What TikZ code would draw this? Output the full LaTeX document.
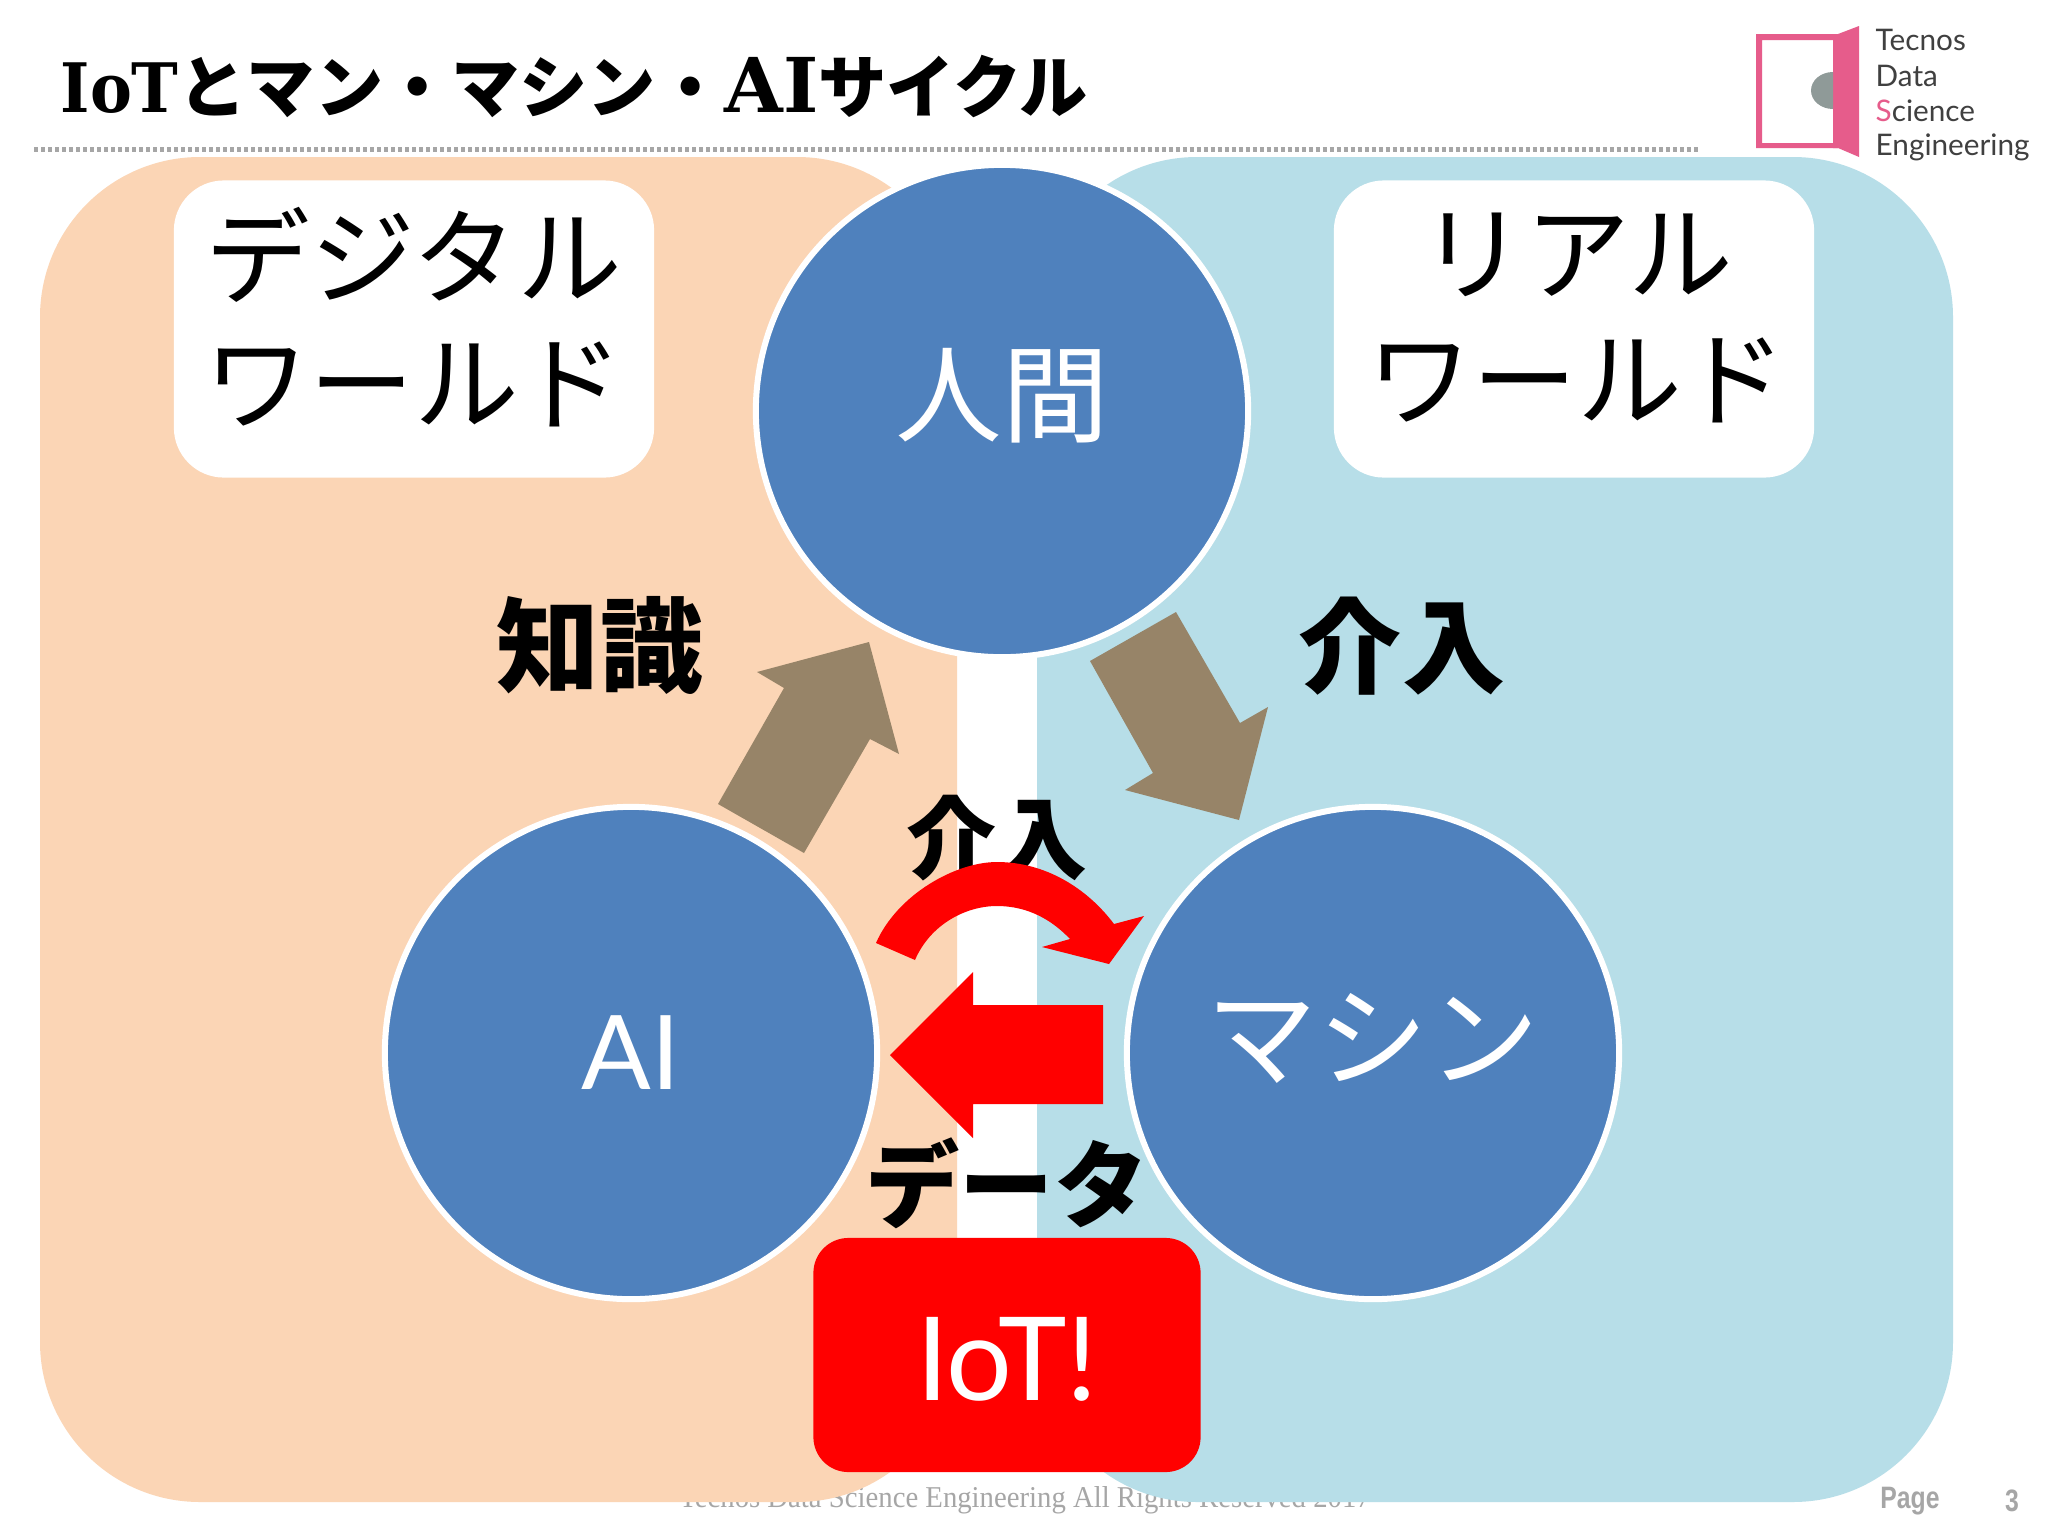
\documentclass[tikz,border=0pt]{standalone}
\usepackage{fontspec}
\setmainfont{Liberation Serif}
\newfontfamily\jpfont{Noto Sans CJK JP}
\newfontfamily\logofont{Lato}
\newfontfamily\slabfont[FakeStretch=0.92]{DejaVu Serif}
\newfontfamily\wideslabfont{DejaVu Serif}
\newfontfamily\pagefont{Liberation Sans}
\definecolor{peach}{HTML}{FBD5B5}
\definecolor{skyblue}{HTML}{B7DEE8}
\definecolor{ballblue}{HTML}{4F81BD}
\definecolor{brownarrow}{HTML}{978468}
\definecolor{doorpink}{HTML}{E65C8B}
\definecolor{knobgray}{HTML}{8F9A98}
\definecolor{footgray}{HTML}{A6A6A6}
\begin{document}
\begin{tikzpicture}[x=0.01cm,y=-0.01cm,
  world/.style={rounded corners=1.6cm},
  ball/.style={circle,fill=ballblue,draw=white,line width=0.06cm,minimum size=4.92cm,inner sep=0pt,text=white,font=\jpfont\fontsize{29.8}{35}\selectfont},
  namebox/.style={rectangle,fill=white,rounded corners=0.5cm,minimum width=4.8cm,minimum height=2.97cm,inner sep=0pt,align=center,font=\jpfont\fontsize{29.8}{36}\selectfont},
  biglabel/.style={inner sep=0pt,font=\jpfont\bfseries\fontsize{29.3}{35}\selectfont},
  midlabel/.style={inner sep=0pt,font=\jpfont\bfseries\fontsize{25.6}{30}\selectfont},
  logotext/.style={anchor=west,inner sep=0pt,text=black!75,font=\logofont\fontsize{8.45}{11}\selectfont}]
\useasboundingbox (0,0) rectangle (2048,1536);
\fill[white] (0,0) rectangle (2048,1536);
% footer goes under the panels
\node[footgray,inner sep=0pt,xscale=0.95] (footer) at (1025,1500) {\fontsize{8.6}{10}\selectfont Tecnos Data Science Engineering All Rights Reserved 2017};
\node[footgray,inner sep=0pt,xscale=0.8] (pagename) at (1910,1501) {\pagefont\bfseries\fontsize{8.8}{10}\selectfont Page};
\node[footgray,inner sep=0pt,xscale=0.8] (pagenum) at (2012,1501) {\pagefont\bfseries\fontsize{8.8}{10}\selectfont 3};
% panels
\fill[peach,world] (40,157) rectangle (957,1502);
\fill[skyblue,world] (1037,157) rectangle (1953,1502);
% title
\node[anchor=west,inner sep=0pt] (title) at (60,87) {\fontsize{19.4}{24}\selectfont\jpfont\bfseries{\slabfont IoT}とマン・マシン・{\wideslabfont\fontsize{21.5}{24}\selectfont AI}サイクル};
\draw[gray!70,line width=0.05cm,dash pattern=on 0.04cm off 0.03cm] (34,149)--(1698,149);
% logo
\fill[doorpink,even odd rule] (1756,34) rectangle (1838,148) (1762,40) rectangle (1833,143);
\fill[doorpink] (1833,34)--(1838,34)--(1859,26)--(1859,157)--(1838,148)--(1833,148)--cycle;
\fill[knobgray] (1833,109) arc (90:270:22 and 18.5)--cycle;
\node[logotext] (logoa) at (1875,40) {Tecnos};
\node[logotext] (logob) at (1875,76) {Data};
\node[logotext] (logoc) at (1875,111) {\textcolor{doorpink}{S}cience};
\node[logotext] (logod) at (1875,147) {Engineering};
% name boxes
\node[namebox] (digital) at (414,329) {};
\node[namebox] (real) at (1574,329) {};
\node[namebox,fill=none,minimum height=0pt] (digitaltext) at (414,317) {デジタル\\ワールド};
\node[namebox,fill=none,minimum height=0pt] (realtext) at (1577,318) {リアル\\ワールド};
% brown arrows
\fill[brownarrow] (718,804)--(804,853)--(870,739)--(899,754)--(869,642)--(757,672)--(784,688)--cycle;
\fill[brownarrow] (1176,612)--(1090,661)--(1153,773)--(1125,790)--(1239,820)--(1268,707)--(1240,723)--cycle;
% circles
\node[ball] (human) at (1002,411) {};
\node[ball] (ai) at (631,1053) {\logofont\fontsize{29.3}{35}\selectfont AI};
\node[ball] (machine) at (1373,1053) {};
\node[text=white,inner sep=0pt,font=\jpfont\fontsize{30.3}{35}\selectfont] (humantext) at (1002,396) {人間};
\node[text=white,inner sep=0pt,font=\jpfont\fontsize{31.5}{35}\selectfont] (machinetext) at (1373,1038) {マシン};
% labels
\node[biglabel] (know) at (600,646) {知識};
\node[biglabel] (act) at (1402,646) {介入};
\node[midlabel] (actmid) at (997,838) {介入};
\node[inner sep=0pt,font=\jpfont\bfseries\fontsize{26.8}{30}\selectfont] (data) at (1007,1183) {データ};
% red arrows
\fill[red] (876,943) .. controls (897,895) and (955,862) .. (997,862) .. controls (1045,862) and (1087,888) .. (1114,924)--(1144,916)--(1109,964)--(1042,947)--(1070,939) .. controls (1052,920) and (1028,906) .. (997,906) .. controls (965,906) and (930,925) .. (915,960)--cycle;
\fill[red] (890,1055)--(973,972)--(973,1005)--(1103,1005)--(1103,1104)--(973,1104)--(973,1138)--cycle;
\node[rectangle,fill=red,rounded corners=0.35cm,minimum width=3.87cm,minimum height=2.34cm,inner sep=0pt] (iot) at (1007,1355) {};
\node[text=white,inner sep=0pt,font=\logofont\fontsize{33}{35}\selectfont] (iottext) at (1007,1359) {IoT!};
\end{tikzpicture}
\end{document}
